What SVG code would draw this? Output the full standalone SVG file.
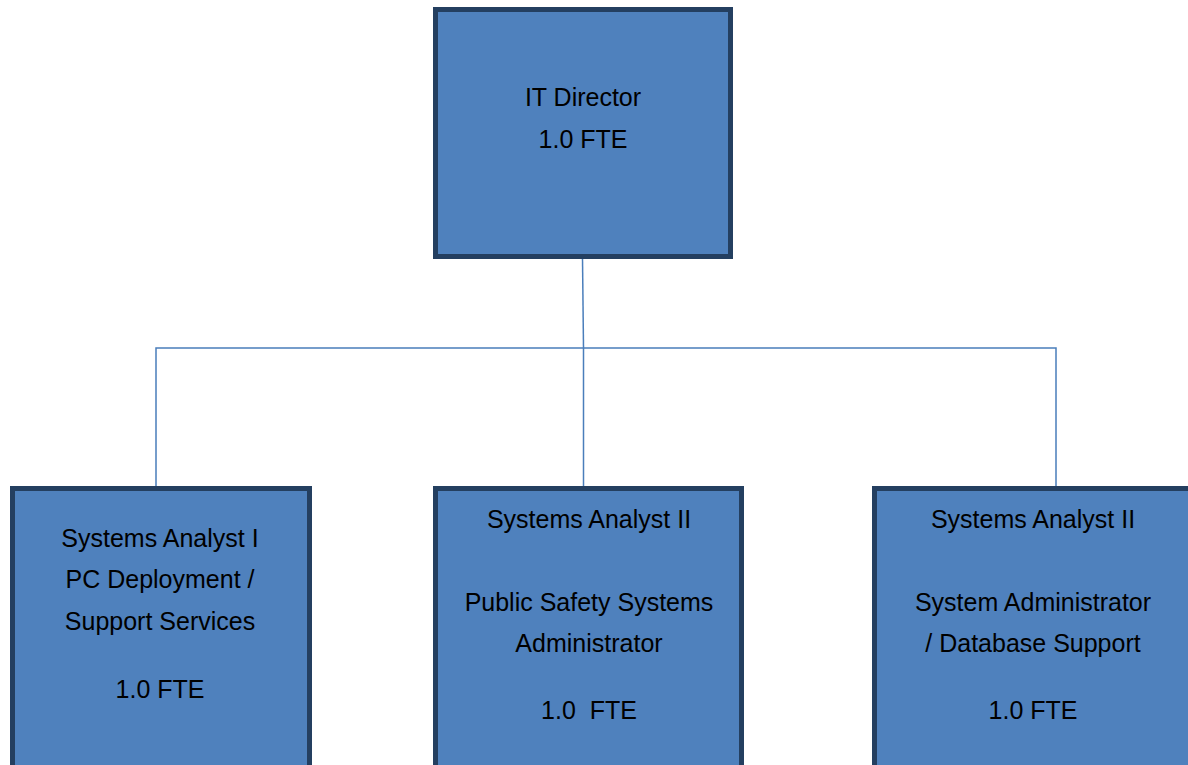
<svg xmlns="http://www.w3.org/2000/svg" width="1188" height="765" viewBox="0 0 1188 765">
<style>
.box{fill:#4F81BD;stroke:#243F60;stroke-width:5}
.t{font-family:"Liberation Sans",Arial,sans-serif;font-size:25px;fill:#000;text-anchor:middle;white-space:pre}
.c{fill:none;stroke:#4A7EBB;stroke-width:1.5}
</style>
<rect width="1188" height="765" fill="#fff"/>
<g id="connectors">
<path class="c" d="M582.5 258 L583.5 348"/>
<path class="c" d="M156 487 V348 H1056 V487"/>
<path class="c" d="M583.5 348 V487"/>
</g>
<g id="it-director">
<rect class="box" x="435.5" y="9.5" width="295" height="247"/>
<text class="t" x="583" y="106">IT Director</text>
<text class="t" x="583" y="148">1.0 FTE</text>
</g>
<g id="analyst-1">
<rect class="box" x="12.5" y="488.5" width="297" height="290"/>
<text class="t" x="160" y="547">Systems Analyst I</text>
<text class="t" x="160" y="588">PC Deployment /</text>
<text class="t" x="160" y="630">Support Services</text>
<text class="t" x="160" y="698">1.0 FTE</text>
</g>
<g id="analyst-2a">
<rect class="box" x="435.5" y="488.5" width="306" height="290"/>
<text class="t" x="589" y="528">Systems Analyst II</text>
<text class="t" x="589" y="611">Public Safety Systems</text>
<text class="t" x="589" y="652">Administrator</text>
<text class="t" x="589" y="719">1.0  FTE</text>
</g>
<g id="analyst-2b">
<rect class="box" x="874.5" y="488.5" width="317" height="290"/>
<text class="t" x="1033" y="528">Systems Analyst II</text>
<text class="t" x="1033" y="611">System Administrator</text>
<text class="t" x="1033" y="652">/ Database Support</text>
<text class="t" x="1033" y="719">1.0 FTE</text>
</g>
</svg>
